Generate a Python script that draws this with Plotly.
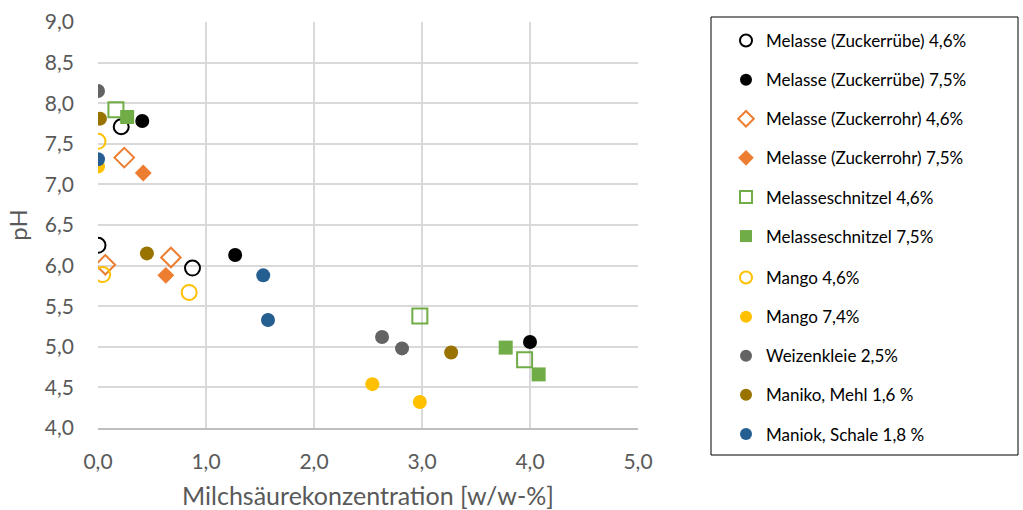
import plotly.graph_objects as go

series_names = [
    "Melasse (Zuckerrübe) 4,6%",
    "Melasse (Zuckerrübe) 7,5%",
    "Melasse (Zuckerrohr) 4,6%",
    "Melasse (Zuckerrohr) 7,5%",
    "Melasseschnitzel 4,6%",
    "Melasseschnitzel 7,5%",
    "Mango 4,6%",
    "Mango 7,4%",
    "Weizenkleie 2,5%",
    "Maniko, Mehl 1,6 %",
    "Maniok, Schale 1,8 %",
]

x_zr46 = [0.0, 0.215, 0.875]
y_zr46 = [6.25, 7.71, 5.97]
x_zr75 = [0.41, 1.27, 4.0]
y_zr75 = [7.78, 6.13, 5.06]
x_zo46 = [0.243, 0.068, 0.675]
y_zo46 = [7.33, 6.01, 6.10]
x_zo75 = [0.419, 0.628]
y_zo75 = [7.14, 5.88]
x_ms46 = [0.166, 2.98, 3.95]
y_ms46 = [7.92, 5.38, 4.84]
x_ms75 = [0.27, 3.775, 4.08]
y_ms75 = [7.83, 4.99, 4.66]
x_m46 = [0.0, 0.043, 0.844]
y_m46 = [7.53, 5.89, 5.67]
x_m74 = [0.0, 2.54, 2.98]
y_m74 = [7.22, 4.54, 4.32]
x_wk = [0.0, 2.63, 2.815]
y_wk = [8.15, 5.12, 4.98]
x_mm = [0.018, 0.453, 3.27]
y_mm = [7.81, 6.15, 4.93]
x_msch = [0.0, 1.53, 1.574]
y_msch = [7.31, 5.88, 5.33]

xs = [x_zr46, x_zr75, x_zo46, x_zo75, x_ms46, x_ms75, x_m46, x_m74, x_wk, x_mm, x_msch]
ys = [y_zr46, y_zr75, y_zo46, y_zo75, y_ms46, y_ms75, y_m46, y_m74, y_wk, y_mm, y_msch]

styles = [
    dict(symbol="circle-open", color="#000000", size=15, line=dict(width=2, color="#000000")),
    dict(symbol="circle", color="#000000", size=14),
    dict(symbol="diamond-open", color="#ED7D31", size=15, line=dict(width=2, color="#ED7D31")),
    dict(symbol="diamond", color="#ED7D31", size=13),
    dict(symbol="square-open", color="#70AD47", size=15, line=dict(width=2, color="#70AD47")),
    dict(symbol="square", color="#70AD47", size=14),
    dict(symbol="circle-open", color="#FFC000", size=15, line=dict(width=2, color="#FFC000")),
    dict(symbol="circle", color="#FFC000", size=14),
    dict(symbol="circle", color="#636363", size=14),
    dict(symbol="circle", color="#997300", size=14),
    dict(symbol="circle", color="#255E91", size=14),
]

fig = go.Figure()
for i, (name, x, y, st) in enumerate(zip(series_names, xs, ys, styles)):
    fig.add_trace(go.Scatter(
        x=x, y=y, mode="markers", name=name, legendgroup=f"g{i}",
        legend="legend" if i < 6 else "legend2",
        marker=st,
    ))

FONT = "Lato, Open Sans, sans-serif"
grid = "#D9D9D9"
tickfont = dict(family=FONT, size=21, color="#595959")
legfont = dict(family=FONT, size=17, color="#000000")
GAP = 14
LEG_X = (726 - 98) / 540
fig.update_layout(
    width=1023, height=510,
    paper_bgcolor="white", plot_bgcolor="white",
    margin=dict(l=98, r=385, t=22, b=82, autoexpand=False),
    separators=",.",
    font=dict(family=FONT),
    xaxis=dict(range=[0, 5], dtick=1, tickformat=".1f", showgrid=True, gridcolor=grid, gridwidth=1.5,
               zeroline=False, showline=True, linecolor="#BFBFBF", linewidth=1.5,
               tickfont=tickfont, ticks="", ticklabelstandoff=14, automargin=False,
               title=dict(text="Milchsäurekonzentration [w/w-%]",
                          font=dict(family=FONT, size=25, color="#595959"),
                          standoff=18)),
    yaxis=dict(range=[4, 9], dtick=0.5, tickformat=".1f", showgrid=True, gridcolor=grid, gridwidth=1.5,
               zeroline=False, showline=False, tickfont=tickfont, ticks="",
               ticklabelstandoff=23, automargin=False,
               title=dict(text="pH", font=dict(family=FONT, size=24, color="#595959"),
                          standoff=10)),
    legend=dict(x=LEG_X, y=(428 - 23) / 406, xanchor="left", yanchor="top",
                font=legfont, tracegroupgap=GAP, itemsizing="constant",
                bgcolor="rgba(0,0,0,0)", borderwidth=0),
    legend2=dict(x=LEG_X, y=(428 - 260) / 406, xanchor="left", yanchor="top",
                 font=legfont, tracegroupgap=GAP, itemsizing="constant",
                 bgcolor="rgba(0,0,0,0)", borderwidth=0),
    shapes=[dict(type="rect", xref="paper", yref="paper",
                 x0=(711 - 98) / 540, x1=(1018 - 98) / 540,
                 y0=(428 - 455) / 406, y1=(428 - 17) / 406,
                 line=dict(color="#000000", width=1))],
)

fig.write_html("out.html", config={"displayModeBar": False},
               post_script="document.body.style.margin='0px';")
